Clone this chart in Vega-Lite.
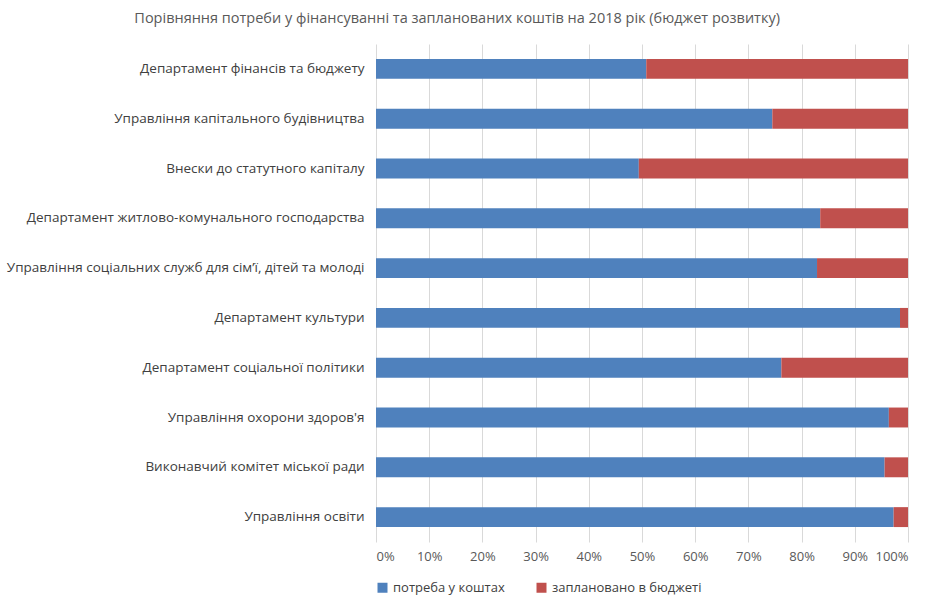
{
  "$schema": "https://vega.github.io/schema/vega-lite/v6.json",
  "width": 933, "height": 603,
  "autosize": {"type": "fit", "contains": "padding"},
  "padding": {"top": 10, "left": 6, "right": 25, "bottom": 8},
  "background": "white",
  "config": {"font": "Open Sans", "view": {"stroke": null}},
  "title": {"text": "Порівняння потреби у фінансуванні та запланованих коштів на 2018 рік (бюджет розвитку)", "fontSize": 14.5, "fontWeight": "normal", "color": "#595959", "offset": 18, "frame": "bounds", "anchor": "middle"},
  "data": {"values": [
    {"dep": "Департамент фінансів та бюджету", "s": "потреба у коштах", "o": 1, "v": 50.8},
    {"dep": "Департамент фінансів та бюджету", "s": "заплановано в бюджеті", "o": 2, "v": 49.2},
    {"dep": "Управління капітального будівництва", "s": "потреба у коштах", "o": 1, "v": 74.5},
    {"dep": "Управління капітального будівництва", "s": "заплановано в бюджеті", "o": 2, "v": 25.5},
    {"dep": "Внески до статутного капіталу ", "s": "потреба у коштах", "o": 1, "v": 49.4},
    {"dep": "Внески до статутного капіталу ", "s": "заплановано в бюджеті", "o": 2, "v": 50.6},
    {"dep": "Департамент житлово-комунального господарства", "s": "потреба у коштах", "o": 1, "v": 83.5},
    {"dep": "Департамент житлово-комунального господарства", "s": "заплановано в бюджеті", "o": 2, "v": 16.5},
    {"dep": "Управління соціальних служб для сім’ї, дітей та молоді", "s": "потреба у коштах", "o": 1, "v": 82.9},
    {"dep": "Управління соціальних служб для сім’ї, дітей та молоді", "s": "заплановано в бюджеті", "o": 2, "v": 17.1},
    {"dep": "Департамент культури ", "s": "потреба у коштах", "o": 1, "v": 98.5},
    {"dep": "Департамент культури ", "s": "заплановано в бюджеті", "o": 2, "v": 1.5},
    {"dep": "Департамент соціальної політики", "s": "потреба у коштах", "o": 1, "v": 76.2},
    {"dep": "Департамент соціальної політики", "s": "заплановано в бюджеті", "o": 2, "v": 23.8},
    {"dep": "Управління охорони здоров'я", "s": "потреба у коштах", "o": 1, "v": 96.4},
    {"dep": "Управління охорони здоров'я", "s": "заплановано в бюджеті", "o": 2, "v": 3.6},
    {"dep": "Виконавчий комітет міської ради", "s": "потреба у коштах", "o": 1, "v": 95.6},
    {"dep": "Виконавчий комітет міської ради", "s": "заплановано в бюджеті", "o": 2, "v": 4.4},
    {"dep": "Управління освіти", "s": "потреба у коштах", "o": 1, "v": 97.3},
    {"dep": "Управління освіти", "s": "заплановано в бюджеті", "o": 2, "v": 2.7}
  ]},
  "mark": {"type": "bar"},
  "encoding": {
    "y": {"field": "dep", "type": "nominal", "sort": null, "title": null,
      "scale": {"paddingInner": 0.6, "paddingOuter": 0.3},
      "axis": {"domain": false, "ticks": false, "labelFontSize": 13.5, "labelColor": "#404040", "labelPadding": 12, "labelLimit": 420}},
    "x": {"field": "v", "type": "quantitative", "stack": "normalize", "title": null,
      "axis": {"format": "%", "values": [0,0.1,0.2,0.3,0.4,0.5,0.6,0.7,0.8,0.9,1], "domain": false, "ticks": false, "gridColor": "#d9d9d9", "labelFontSize": 13, "labelColor": "#595959", "labelPadding": 8}},
    "color": {"field": "s", "type": "nominal", "title": null,
      "scale": {"domain": ["потреба у коштах", "заплановано в бюджеті"], "range": ["#4f81bd", "#c0504d"]},
      "legend": {"orient": "bottom", "direction": "horizontal", "symbolType": "square", "labelFontSize": 13, "labelColor": "#404040", "offset": 18, "columnPadding": 30}},
    "order": {"field": "o", "type": "quantitative"}
  }
}
